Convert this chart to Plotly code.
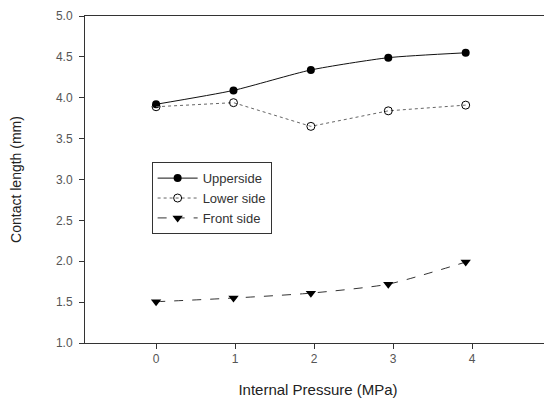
import plotly.graph_objects as go

pressure = [0, 0.98, 1.96, 2.94, 3.92]
upperside = [3.92, 4.09, 4.34, 4.49, 4.55]
lower_side = [3.89, 3.94, 3.65, 3.84, 3.91]
front_side = [1.505, 1.55, 1.61, 1.72, 1.99]

x_ticks = [0, 1, 2, 3, 4, 5]
y_ticks = [1.0, 1.5, 2.0, 2.5, 3.0, 3.5, 4.0, 4.5, 5.0]

fig = go.Figure()
fig.add_trace(go.Scatter(
    x=pressure, y=upperside, name="Upperside", mode="lines+markers",
    line=dict(color="#111111", width=1, shape="spline", smoothing=0.6),
    marker=dict(symbol="circle", size=8, color="black")))
fig.add_trace(go.Scatter(
    x=pressure, y=lower_side, name="Lower side", mode="lines+markers",
    line=dict(color="#666666", width=1, dash="dot"),
    marker=dict(symbol="circle-open", size=8, color="black", line=dict(width=1))))
fig.add_trace(go.Scatter(
    x=pressure, y=front_side, name="Front side", mode="lines+markers",
    line=dict(color="#333333", width=1, dash="dash", shape="spline", smoothing=0.6),
    marker=dict(symbol="triangle-down", size=9, color="black")))

# page body has an 8px margin, so the figure is 544x390 placed at (8, 8)
fig.update_layout(
    width=544, height=390,
    margin=dict(l=77, r=1, t=8, b=55, autoexpand=False),
    paper_bgcolor="white", plot_bgcolor="white",
    font=dict(family="Liberation Sans, Arial, sans-serif", size=12, color="#444444"),
    showlegend=True,
    legend=dict(x=0.143, y=0.553, xanchor="left", yanchor="top",
                bordercolor="#333333", borderwidth=1, bgcolor="white",
                font=dict(size=13, color="#333333"), tracegroupgap=0,
                itemwidth=40),
    xaxis=dict(range=[-0.9, 5], tickvals=x_ticks, ticktext=[str(t) for t in x_ticks],
               automargin=False, ticklabeloverflow="allow",
               showgrid=False, zeroline=False, showline=True, linecolor="#333333",
               linewidth=1, mirror=True, ticks="outside", ticklen=5, tickcolor="#333333",
               tickfont=dict(size=12, color="#555555"),
               title=dict(text="Internal Pressure (MPa)", standoff=20,
                          font=dict(size=15, color="#222222"))),
    yaxis=dict(range=[1.0, 5.0], tickvals=y_ticks, ticktext=[f"{t:.1f}" for t in y_ticks],
               automargin=False, ticklabelstandoff=4,
               showgrid=False, zeroline=False, showline=True, linecolor="#333333",
               linewidth=1, mirror=True, ticks="outside", ticklen=5, tickcolor="#333333",
               tickfont=dict(size=12, color="#555555"),
               title=dict(text="Contact length (mm)", standoff=37,
                          font=dict(size=14, color="#222222"))),
)

fig.write_html("out.html")
